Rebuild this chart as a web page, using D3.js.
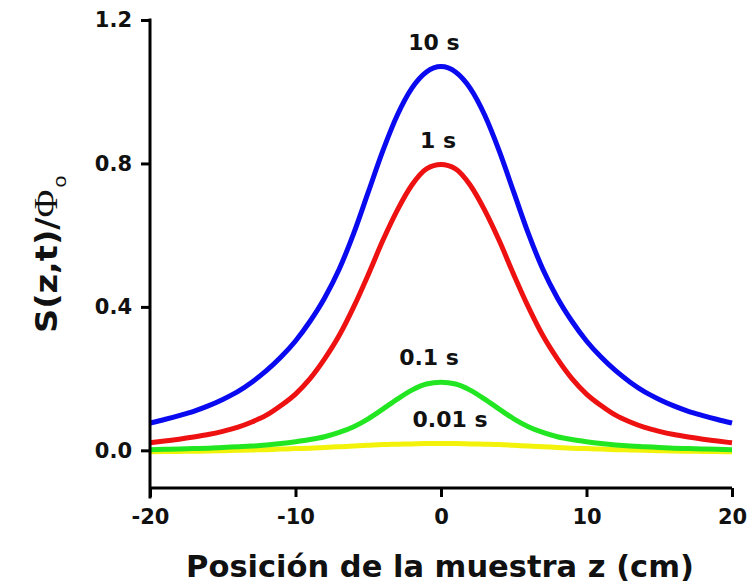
<!DOCTYPE html>
<html>
<head>
<meta charset="utf-8">
<script src="https://cdn.jsdelivr.net/npm/d3@7"></script>
<style>
  body { margin: 0; background: #fff; }
  svg { display: block; }
</style>
</head>
<body>
<div id="chart"><svg></svg></div>
<script>
const svg = d3.select("#chart svg");
const chartWidth = 752;
const chartHeight = 584;

svg.attr("width", chartWidth).attr("height", chartHeight);

// Sample positions z (cm)
const zValues = [-20, -19, -18, -17, -16, -15, -14, -13, -12, -11, -10, -9, -8, -7, -6, -5, -4, -3, -2, -1, 0,
                 1, 2, 3, 4, 5, 6, 7, 8, 9, 10, 11, 12, 13, 14, 15, 16, 17, 18, 19, 20];

// S(z,t)/Phi_o, one array per time
const s10 = [0.076, 0.086, 0.097, 0.109, 0.124, 0.142, 0.163, 0.19, 0.222, 0.26, 0.305, 0.36, 0.425, 0.505, 0.605, 0.72, 0.835, 0.935, 1.01, 1.055, 1.07,
             1.055, 1.01, 0.935, 0.835, 0.72, 0.605, 0.505, 0.425, 0.36, 0.305, 0.26, 0.222, 0.19, 0.163, 0.142, 0.124, 0.109, 0.097, 0.086, 0.076];
const s1 = [0.021, 0.026, 0.031, 0.037, 0.044, 0.053, 0.064, 0.079, 0.098, 0.125, 0.157, 0.2, 0.255, 0.32, 0.4, 0.49, 0.585, 0.67, 0.74, 0.785, 0.797,
            0.785, 0.74, 0.67, 0.585, 0.49, 0.4, 0.32, 0.255, 0.2, 0.157, 0.125, 0.098, 0.079, 0.064, 0.053, 0.044, 0.037, 0.031, 0.026, 0.021];
const s01 = [0.002, 0.003, 0.004, 0.005, 0.006, 0.008, 0.01, 0.012, 0.015, 0.019, 0.024, 0.03, 0.038, 0.05, 0.066, 0.088, 0.115, 0.143, 0.168, 0.185, 0.19,
             0.185, 0.168, 0.143, 0.115, 0.088, 0.066, 0.05, 0.038, 0.03, 0.024, 0.019, 0.015, 0.012, 0.01, 0.008, 0.006, 0.005, 0.004, 0.003, 0.002];
const s001 = [-0.004, -0.0035, -0.003, -0.0025, -0.002, -0.001, 0.0, 0.001, 0.002, 0.0035, 0.005, 0.006, 0.008, 0.01, 0.012, 0.014, 0.016, 0.017, 0.018, 0.019, 0.019,
              0.019, 0.018, 0.017, 0.016, 0.014, 0.012, 0.01, 0.008, 0.006, 0.005, 0.0035, 0.002, 0.001, 0.0, -0.001, -0.002, -0.0025, -0.003, -0.0035, -0.004];

const seriesLabels = ["0.01 s", "0.1 s", "1 s", "10 s"];
const seriesValues = [s001, s01, s1, s10];
const seriesColors = ["#f2f20a", "#22e622", "#ee1111", "#0a0af0"];
const labelShift = [9, -12, -3, -7]; // small horizontal nudges for the curve labels

const xTicks = [-20, -10, 0, 10, 20];
const yTicks = [0.0, 0.4, 0.8, 1.2];

const x = d3.scaleLinear().domain([-20, 20]).range([150, 732]);
const y = d3.scaleLinear().domain([-0.105, 1.2]).range([488, 20]);

const tickFont = "'DejaVu Sans', sans-serif";

// curves
const line = d3.line()
  .x((d, i) => x(zValues[i]))
  .y(d => y(d))
  .curve(d3.curveMonotoneX);

seriesValues.forEach((vals, k) => {
  svg.append("path")
    .attr("d", line(vals))
    .attr("fill", "none")
    .attr("stroke", seriesColors[k])
    .attr("stroke-width", 5)
    .attr("stroke-linejoin", "round");

  svg.append("text")
    .text(seriesLabels[k])
    .attr("x", x(0) + labelShift[k])
    .attr("y", y(d3.max(vals)) - 17)
    .attr("text-anchor", "middle")
    .attr("font-family", tickFont)
    .attr("font-weight", "bold")
    .attr("font-size", 22)
    .attr("fill", "#111");
});

// x axis
const xAxis = svg.append("g")
  .attr("transform", `translate(0,${y(-0.105)})`)
  .call(d3.axisBottom(x).tickValues(xTicks).tickSize(9).tickPadding(12)
    .tickFormat(d => (d < 0 ? "-" : "") + Math.abs(d)));

// y axis
const yAxis = svg.append("g")
  .attr("transform", `translate(${x(-20)},0)`)
  .call(d3.axisLeft(y).tickValues(yTicks).tickSize(9).tickPadding(9).tickFormat(d3.format(".1f")));

[xAxis, yAxis].forEach(g => {
  g.select(".domain").remove();
  g.selectAll(".tick line").attr("stroke", "#000").attr("stroke-width", 3);
  g.selectAll(".tick text")
    .attr("font-family", tickFont)
    .attr("font-weight", "bold")
    .attr("font-size", 21)
    .attr("fill", "#111");
});

// axis lines
svg.append("line")
  .attr("x1", x(-20)).attr("x2", x(20))
  .attr("y1", y(-0.105)).attr("y2", y(-0.105))
  .attr("stroke", "#000").attr("stroke-width", 3);
svg.append("line")
  .attr("x1", x(-20)).attr("x2", x(-20))
  .attr("y1", y(1.2)).attr("y2", y(-0.105) + 9)
  .attr("stroke", "#000").attr("stroke-width", 3)
  .attr("stroke-linecap", "square");

// axis titles
svg.append("text")
  .text("Posición de la muestra z (cm)")
  .attr("x", 440)
  .attr("y", 577)
  .attr("text-anchor", "middle")
  .attr("font-family", tickFont)
  .attr("font-weight", "bold")
  .attr("font-size", 30.5)
  .attr("fill", "#111");

const yTitle = svg.append("text")
  .attr("transform", "translate(57,333) rotate(-90) scale(1.12,1)")
  .attr("fill", "#111")
  .attr("font-size", 30);
yTitle.append("tspan")
  .text("S(z,t)/")
  .attr("font-family", tickFont)
  .attr("font-weight", "bold");
yTitle.append("tspan")
  .text("Φ")
  .attr("font-family", "'Liberation Serif', serif")
  .attr("font-size", 34);
yTitle.append("tspan")
  .text("o")
  .attr("font-family", "'Liberation Sans', sans-serif")
  .attr("font-size", 19)
  .attr("dx", 2)
  .attr("dy", 9);
</script>
</body>
</html>
